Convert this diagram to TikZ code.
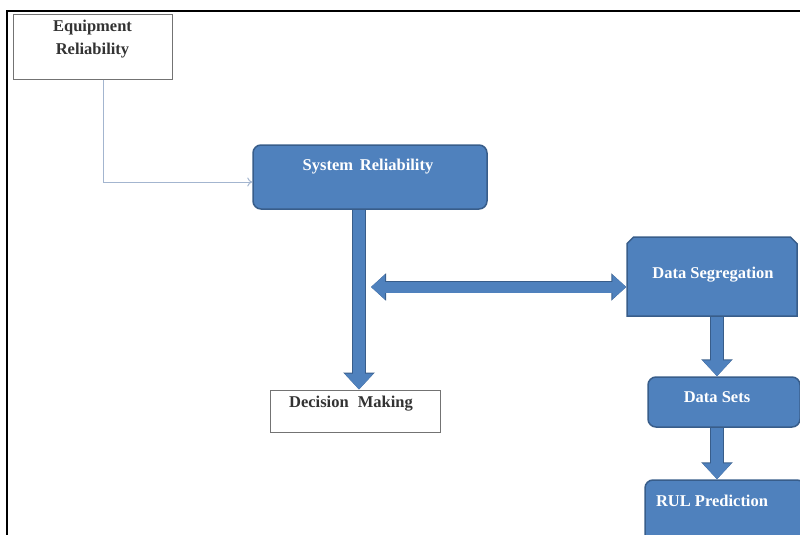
\documentclass[tikz,border=0pt]{standalone}
\usepackage{fontspec}
\setmainfont{Liberation Serif}
\usetikzlibrary{arrows.meta,shapes.misc}

\definecolor{boxblue}{HTML}{4F81BD}
\definecolor{boxedge}{HTML}{385D8A}
\definecolor{linkgray}{HTML}{A3B5CF}

\begin{document}
\begin{tikzpicture}[x=1pt, y=-1pt,
    bluebox/.style={draw=boxedge, line width=1.5pt, fill=boxblue, rounded corners=8pt},
    plainbox/.style={draw=black!55, line width=1pt, fill=white},
    bluetext/.style={text=white, inner sep=0pt, font=\bfseries\fontsize{16.5}{18}\selectfont},
    darktext/.style={text=black!80, inner sep=0pt, align=center, font=\bfseries\fontsize{16.5}{23}\selectfont},
    linkline/.style={draw=linkgray, line width=1pt, -{To[length=5pt,width=9pt]}},
    fatarrow/.style={line width=12pt, draw=boxblue, -{Triangle[width=28pt,length=16pt]},
        preaction={draw=boxedge, line width=13.5pt, -{Triangle[width=30.5pt,length=17pt]}}},
    twowayarrow/.style={line width=11pt, draw=boxblue, {Triangle[width=24pt,length=14pt]}-{Triangle[width=24pt,length=14pt]},
        preaction={draw=boxedge, line width=12.5pt, {Triangle[width=26.5pt,length=15pt]}-{Triangle[width=26.5pt,length=15pt]}}}]

    \clip (0,0) rectangle (800,535);
    \draw[line width=2pt] (7,545) -- (7,11) -- (810,11);

    % Equipment Reliability
    \node[plainbox, minimum width=159pt, minimum height=64pt] (equip) at (92.5,47) {};
    \node[darktext, anchor=north] (equiplabel) at ([yshift=-5pt]equip.north) {Equipment\\Reliability};

    % System Reliability
    \node[bluebox, minimum width=234pt, minimum height=64pt] (sys) at (370,177) {};
    \node[bluetext] (syslabel) at (368,167) {System\, Reliability};

    % Decision Making
    \node[plainbox, minimum width=170pt, minimum height=42pt] (dec) at (355,411) {};
    \node[darktext] (declabel) at (351,404) {Decision\hspace{5pt} Making};

    % Data Segregation
    \node[draw=boxedge, line width=1.5pt, fill=boxblue, chamfered rectangle,
        chamfered rectangle corners={north west,north east},
        chamfered rectangle xsep=11pt, chamfered rectangle ysep=11pt,
        minimum width=170pt, minimum height=79pt] (seg) at (712,276.5) {};
    \node[bluetext] (seglabel) at (713,275) {Data Segregation};

    % Data Sets
    \node[bluebox, minimum width=152pt, minimum height=50pt] (sets) at (724,402) {};
    \node[bluetext] (setslabel) at (717,397) {Data Sets};

    % RUL Prediction
    \node[bluebox, minimum width=160pt, minimum height=66pt] (rul) at (725,513) {};
    \node[bluetext] (rullabel) at (712,501) {RUL Prediction};

    % connectors
    \coordinate (crossend) at (371,287);
    \draw[linkline] ([xshift=10.5pt]equip.south) |- ([yshift=-5pt]sys.west);
    \draw[fatarrow] (sys.south -| 359,0) -- (dec.north -| 359,0);
    \draw[twowayarrow] (crossend) -- ([yshift=-10.5pt]seg.west);
    \draw[fatarrow] ([xshift=5pt]seg.south) -- ([xshift=5pt]seg.south |- sets.north);
    \draw[fatarrow] ([xshift=-7pt]sets.south) -- ([xshift=-7pt]sets.south |- rul.north);
\end{tikzpicture}
\end{document}
